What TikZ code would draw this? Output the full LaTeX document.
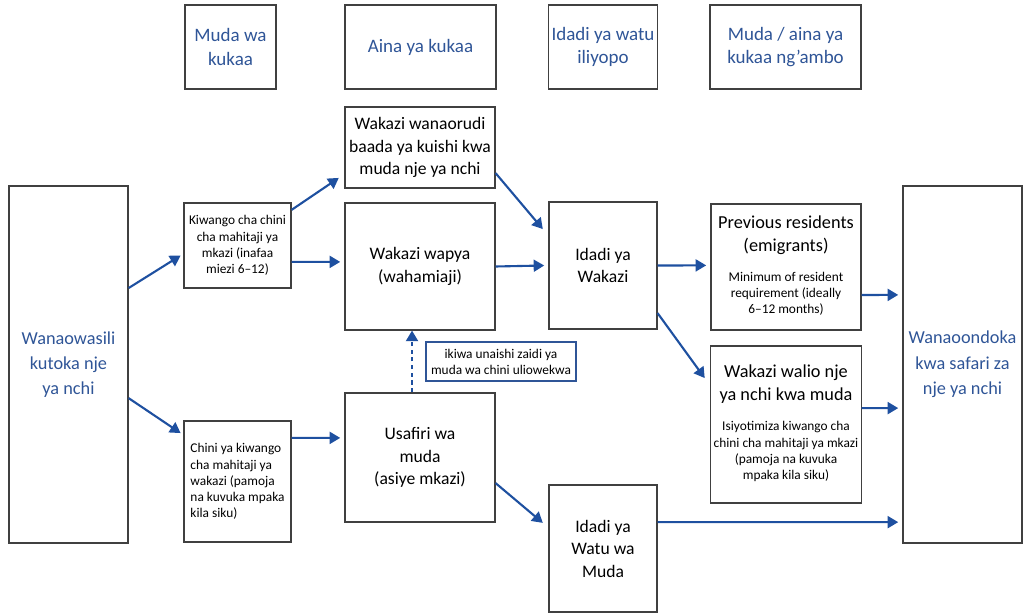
\documentclass[tikz,border=0pt]{standalone}
\usepackage{fontspec}
\setmainfont{Carlito}
\usetikzlibrary{arrows.meta}
\definecolor{hdrblue}{RGB}{47,85,151}
\definecolor{flowblue}{RGB}{30,80,160}
\definecolor{boxgray}{RGB}{64,64,64}
\newcommand{\subtext}[1]{{\fontsize{9.5}{11.5}\selectfont\begin{tabular}[t]{@{}c@{}}#1\end{tabular}}}

\begin{document}
\begin{tikzpicture}[x=0.025cm,y=-0.025cm,
  box/.style={draw=boxgray,line width=0.8pt,align=center,inner sep=2pt,font=\fontsize{12.5}{16}\selectfont},
  hdr/.style={box,text=hdrblue,font=\fontsize{13.5}{16.5}\selectfont},
  sidebox/.style={box,text=hdrblue,font=\fontsize{13}{18}\selectfont,minimum width=2.975cm,minimum height=8.925cm},
  smallbox/.style={box,font=\fontsize{9.5}{11.5}\selectfont},
  notebox/.style={smallbox,draw=hdrblue},
  flow/.style={flowblue,line width=1.5pt,-{Triangle[length=7.5pt,width=8.5pt]}},
  backflow/.style={flow,dash pattern=on 3pt off 2.5pt}]
  \useasboundingbox (0,0) rectangle (1029,615); % Fix the margins

  % Column headers
  \node[hdr,minimum width=2.275cm,minimum height=2.1cm] (hstay) at (230.5,47) {Muda wa\\kukaa};
  \node[hdr,minimum width=3.775cm,minimum height=2.1cm] (htype) at (420.5,47) {Aina ya kukaa};
  \node[hdr,minimum width=2.7cm,minimum height=2.1cm] (hpop) at (603,47) {Idadi ya watu\\iliyopo};
  \node[hdr,minimum width=3.775cm,minimum height=2.1cm] (habroad) at (785.5,47) {Muda / aina ya\\kukaa ng’ambo};

  % Arrivals and departures
  \node[sidebox] (arrive) at (68.5,364.5) {Wanaowasili\\kutoka nje\\ya nchi};
  \node[sidebox] (depart) at (962.5,364.5) {Wanaoondoka\\kwa safari za\\nje ya nchi};

  % Length of stay
  \node[smallbox,minimum width=2.675cm,minimum height=2.125cm] (minres) at (237.5,245.5) {Kiwango cha chini\\cha mahitaji ya\\mkazi (inafaa\\miezi 6–12)};
  \node[smallbox,align=left,minimum width=2.675cm,minimum height=3.025cm] (belowres) at (237.5,481.5) {Chini ya kiwango\\cha mahitaji ya\\wakazi (pamoja\\na kuvuka mpaka\\kila siku)};

  % Type of stay
  \node[box,minimum width=3.75cm,minimum height=2.025cm] (returning) at (420,147.5) {Wakazi wanaorudi\\baada ya kuishi kwa\\muda nje ya nchi};
  \node[box,minimum width=3.75cm,minimum height=3.175cm] (newres) at (420,266.5) {Wakazi wapya\\(wahamiaji)};
  \node[box,minimum width=3.75cm,minimum height=3.225cm] (visitor) at (420,457.5) {Usafiri wa\\muda\\(asiye mkazi)};
  \node[notebox,minimum width=3.75cm,minimum height=0.975cm] (staynote) at (501,361.5) {ikiwa unaishi zaidi ya\\muda wa chini uliowekwa};

  % Population
  \node[box,minimum width=2.7cm,minimum height=3.175cm] (residents) at (603,265.5) {Idadi ya\\Wakazi};
  \node[box,minimum width=2.7cm,minimum height=3.175cm] (temppop) at (603,548.5) {Idadi ya\\Watu wa\\Muda};

  % Stay abroad
  \node[box,font=\fontsize{13}{16.5}\selectfont,minimum width=3.75cm,minimum height=3.15cm] (emig) at (786,267) {Previous residents\\(emigrants)\\[5pt]\subtext{Minimum of resident\\requirement (ideally\\6–12 months)}};
  \node[box,font=\fontsize{13}{16.5}\selectfont,minimum width=3.75cm,minimum height=3.925cm] (abroad) at (786,424.5) {Wakazi walio nje\\ya nchi kwa muda\\[5pt]\subtext{Isiyotimiza kiwango cha\\chini cha mahitaji ya mkazi\\(pamoja na kuvuka\\mpaka kila siku)}};

  % Flows
  \draw[flow] ([yshift=1.91cm]arrive.east) -- ([xshift=-2pt,yshift=-0.25cm]minres.west);
  \draw[flow] ([yshift=-0.84cm]arrive.east) -- ([xshift=-2pt,yshift=1.21cm]belowres.west);
  \draw[flow] ([yshift=0.89cm]minres.east) -- ([xshift=-4pt,yshift=-0.76cm]returning.west);
  \draw[flow] ([yshift=-0.41cm]minres.east) -- ([xshift=-3pt,yshift=0.115cm]newres.west);
  \draw[flow] ([yshift=1.09cm]belowres.east) -- ([xshift=-3pt,yshift=0.49cm]visitor.west);
  \draw[flow] ([yshift=-0.64cm]returning.east) -- ([xshift=-4pt,yshift=0.91cm]residents.west);
  \draw[flow] (newres.east) -- ([xshift=-3pt]residents.west);
  \draw[flow] ([yshift=-0.64cm]visitor.east) -- ([xshift=-4pt,yshift=0.64cm]temppop.west);
  \draw[backflow] ([xshift=-0.2cm]visitor.north) -- ([xshift=-0.2cm]newres.south);
  \draw[flow] (residents.east) -- ([xshift=-3pt,yshift=0.04cm]emig.west);
  \draw[flow] ([yshift=-1.19cm]residents.east) -- ([xshift=-4pt,yshift=1.16cm]abroad.west);
  \draw[flow] ([yshift=-0.7cm]emig.east) -- ([xshift=-3pt,yshift=1.74cm]depart.west);
  \draw[flow] ([yshift=0.41cm]abroad.east) -- ([xshift=-3pt,yshift=-1.09cm]depart.west);
  \draw[flow] ([yshift=0.66cm]temppop.east) -- ([xshift=-3pt,yshift=-3.94cm]depart.west);
\end{tikzpicture}
\end{document}
